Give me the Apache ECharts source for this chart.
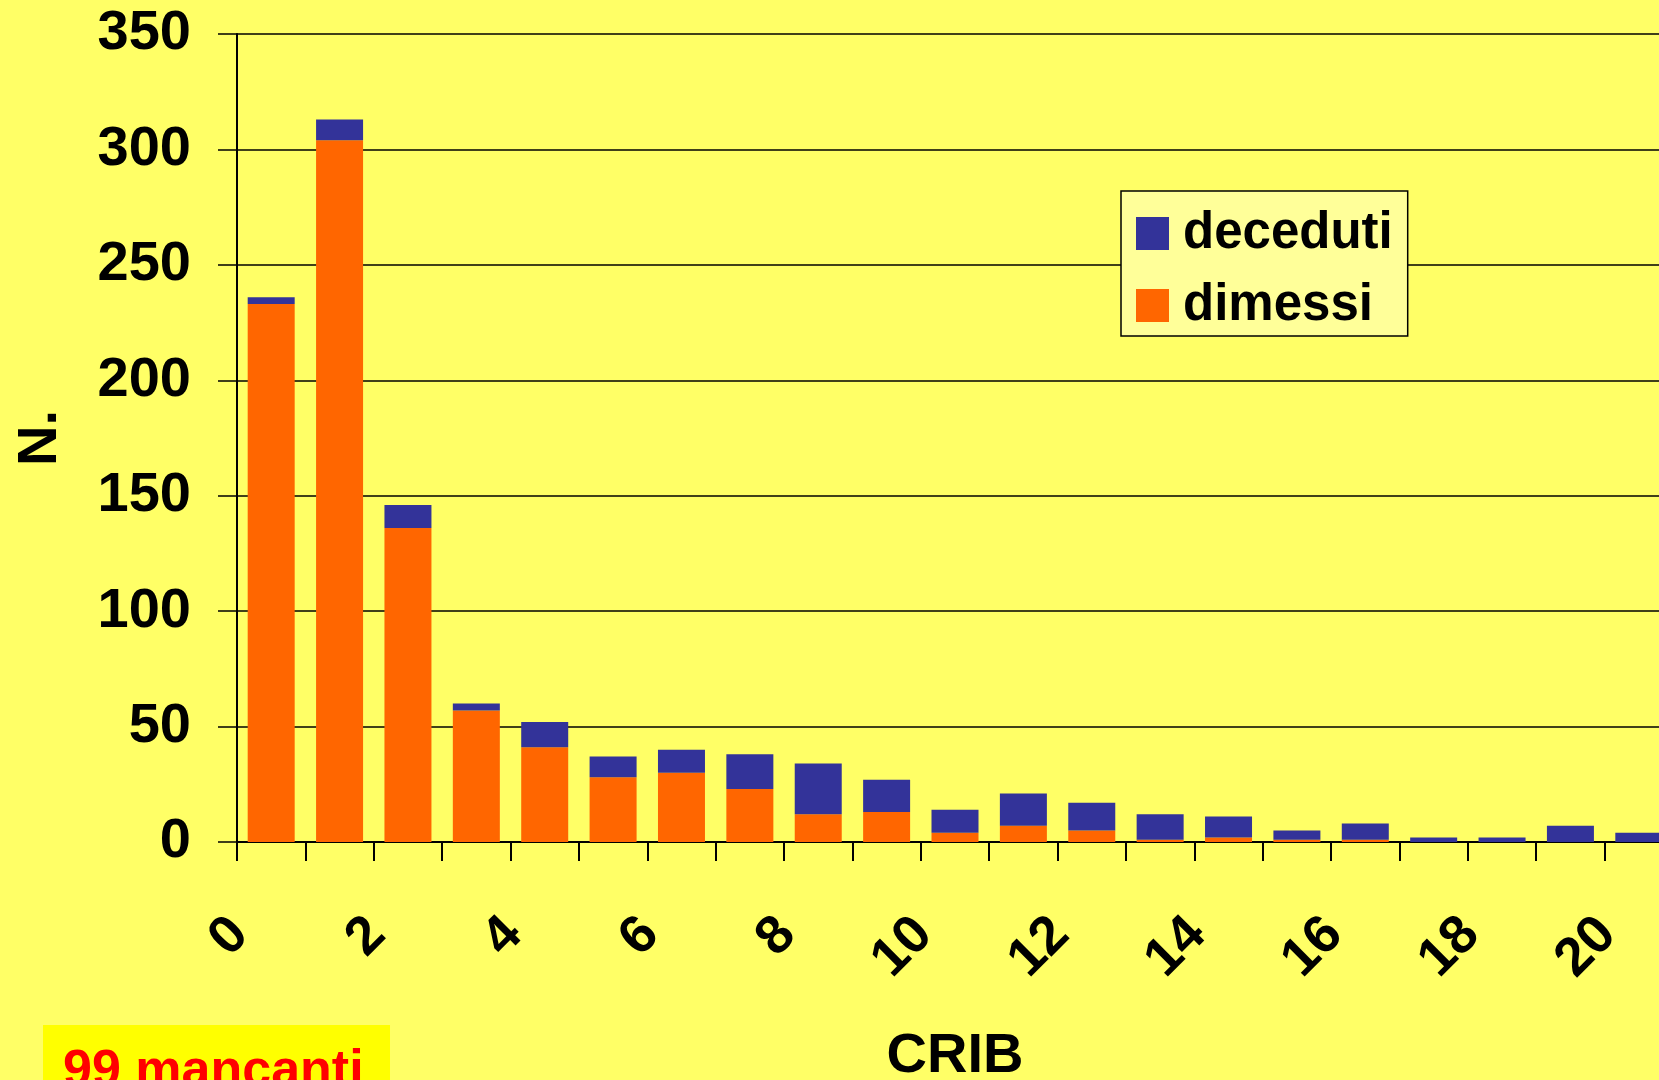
<!DOCTYPE html>
<html>
<head>
<meta charset="utf-8">
<script src="https://cdn.jsdelivr.net/npm/echarts@6/dist/echarts.min.js"></script>
<style>
html,body{margin:0;padding:0;background:#FFFF66;}
#crib{width:1659px;height:1080px;}
</style>
</head>
<body>
<div id="crib"></div>
<script>
// punteggio CRIB e numero di pazienti
var categorie = ['0','1','2','3','4','5','6','7','8','9','10','11','12','13','14','15','16','17','18','19','20'];
var dimessi   = [233, 304, 136, 57, 41, 28, 30, 23, 12, 13, 4, 7, 5, 1, 2, 1, 1, 0, 0, 0, 0];
var deceduti  = [3, 9, 10, 3, 11, 9, 10, 15, 22, 14, 10, 14, 12, 11, 9, 4, 7, 2, 2, 7, 4];
var nomi = ['deceduti', 'dimessi'];
var colori = {dimessi: '#FF6600', deceduti: '#333399'};

var font = '"Liberation Sans", Arial, sans-serif';

var myChart = echarts.init(document.getElementById('crib'));
var option = {
	backgroundColor: '#FFFF66',
	animation: false,
	grid: {
		left: 237,
		top: 34,
		width: 1436,
		height: 808,
		outerBoundsMode: 'none'
	},
	legend: {
		data: nomi,
		orient: 'vertical',
		left: 1121,
		top: 191,
		backgroundColor: '#FFFF99',
		borderColor: '#000',
		borderWidth: 1.5,
		borderRadius: 0,
		padding: [17, 15, 5, 15],
		itemWidth: 33,
		itemHeight: 33,
		itemGap: 21,
		icon: 'rect',
		textStyle: {
			fontFamily: font,
			fontWeight: 'bold',
			fontSize: 51,
			lineHeight: 50,
			color: '#000',
			padding: [0, 0, 0, 9]
		}
	},
	xAxis: {
		type: 'category',
		data: categorie,
		name: 'CRIB',
		nameLocation: 'middle',
		nameGap: 187,
		nameTextStyle: {fontFamily: font, fontWeight: 'bold', fontSize: 56, color: '#000'},
		axisLine: {lineStyle: {color: '#000', width: 2}},
		axisTick: {show: true, interval: 0, length: 19, lineStyle: {color: '#000', width: 2}},
		axisLabel: {
			interval: 1,
			rotate: 45,
			margin: 53,
			padding: [0, 44, 0, 0],
			fontFamily: font,
			fontWeight: 'bold',
			fontSize: 54,
			color: '#000'
		}
	},
	yAxis: {
		type: 'value',
		min: 0,
		max: 350,
		interval: 50,
		name: 'N.',
		nameLocation: 'middle',
		nameGap: 168,
		nameRotate: 90,
		nameTextStyle: {fontFamily: font, fontWeight: 'bold', fontSize: 56, color: '#000'},
		axisLine: {show: true, lineStyle: {color: '#000', width: 2}},
		axisTick: {show: true, length: 19, lineStyle: {color: '#000', width: 1.5}},
		axisLabel: {margin: 46, fontFamily: font, fontWeight: 'bold', fontSize: 56, color: '#000'},
		splitLine: {show: true, lineStyle: {color: '#000', width: 1.5}}
	},
	series: [
		{
			name: 'dimessi',
			type: 'bar',
			stack: 'tot',
			data: dimessi,
			barWidth: 47,
			itemStyle: {color: colori.dimessi}
		},
		{
			name: 'deceduti',
			type: 'bar',
			stack: 'tot',
			data: deceduti,
			barWidth: 47,
			itemStyle: {color: colori.deceduti}
		}
	],
	graphic: [
		{
			type: 'rect',
			left: 43,
			top: 1025,
			shape: {width: 347, height: 60},
			style: {fill: '#FFFF00'}
		},
		{
			type: 'text',
			left: 63,
			top: 1046,
			style: {
				text: '99 mancanti',
				fontFamily: font,
				fontWeight: 'bold',
				fontSize: 52,
				fill: '#FF0000'
			}
		}
	]
};
myChart.setOption(option);
</script>
</body>
</html>
